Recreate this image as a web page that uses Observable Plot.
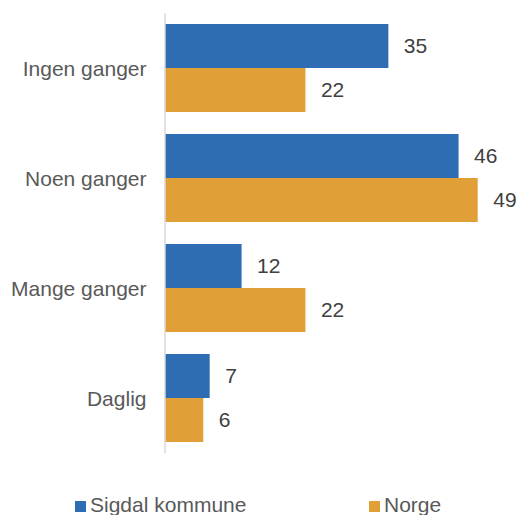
<!DOCTYPE html>
<html>
<head>
<meta charset="utf-8">
<script src="https://cdn.jsdelivr.net/npm/d3@7"></script>
<script src="https://cdn.jsdelivr.net/npm/@observablehq/plot@0.6"></script>
<style>
  html, body { margin: 0; padding: 0; background: #fff; }
  body { width: 519px; height: 515px; position: relative; font-family: "Liberation Sans", Arial, sans-serif; }
  #legend { position: absolute; top: 493px; left: 0; width: 519px; height: 24px; font-size: 21px; color: #595959; }
  .item { position: absolute; top: 0; display: flex; align-items: center; }
  .sw { width: 11px; height: 11px; margin-right: 4px; margin-top: 2px; }
</style>
</head>
<body>
<div id="chart"></div>
<div id="legend"></div>
<script>
const categories = ["Ingen ganger", "Noen ganger", "Mange ganger", "Daglig"];
const series = ["Sigdal kommune", "Norge"];
const sigdal = [35, 46, 12, 7];
const norge = [22, 49, 22, 6];
const colors = ["#2E6DB4", "#E09F37"];

const data = [];
categories.forEach((c, i) => {
  data.push({category: c, series: series[0], value: sigdal[i]});
  data.push({category: c, series: series[1], value: norge[i]});
});

const chart = Plot.plot({
  width: 519,
  height: 470,
  marginLeft: 165,
  marginRight: 3,
  marginTop: 13,
  marginBottom: 17,
  style: {fontFamily: "'Liberation Sans', Arial, sans-serif", fontSize: "21px", color: "#404040", background: "#fff"},
  x: {domain: [0, 55], axis: null},
  y: {domain: series, paddingInner: 0, paddingOuter: 0.25, axis: null},
  fy: {domain: categories, padding: 0, label: null},
  color: {domain: series, range: colors},
  marks: [
    Plot.axisFy({anchor: "left", tickSize: 0, tickPadding: 19, fontSize: 21, color: "#595959", label: null, dy: 1}),
    Plot.barX(data, {fy: "category", y: "series", x: "value", fill: "series"}),
    Plot.text(data, {fy: "category", y: "series", x: "value", text: d => String(d.value), textAnchor: "start", dx: 15, fill: "#404040", fontSize: 21}),
    Plot.ruleX([0], {stroke: "#d9d9d9", strokeWidth: 1.5, dx: -0.5})
  ]
});
document.getElementById("chart").appendChild(chart);

const legend = document.getElementById("legend");
const lx = [75, 369];
series.forEach((s, i) => {
  const it = document.createElement("div");
  it.className = "item";
  it.style.left = lx[i] + "px";
  const sw = document.createElement("div");
  sw.className = "sw";
  sw.style.background = colors[i];
  const t = document.createElement("span");
  t.textContent = s;
  it.appendChild(sw);
  it.appendChild(t);
  legend.appendChild(it);
});
</script>
</body>
</html>
